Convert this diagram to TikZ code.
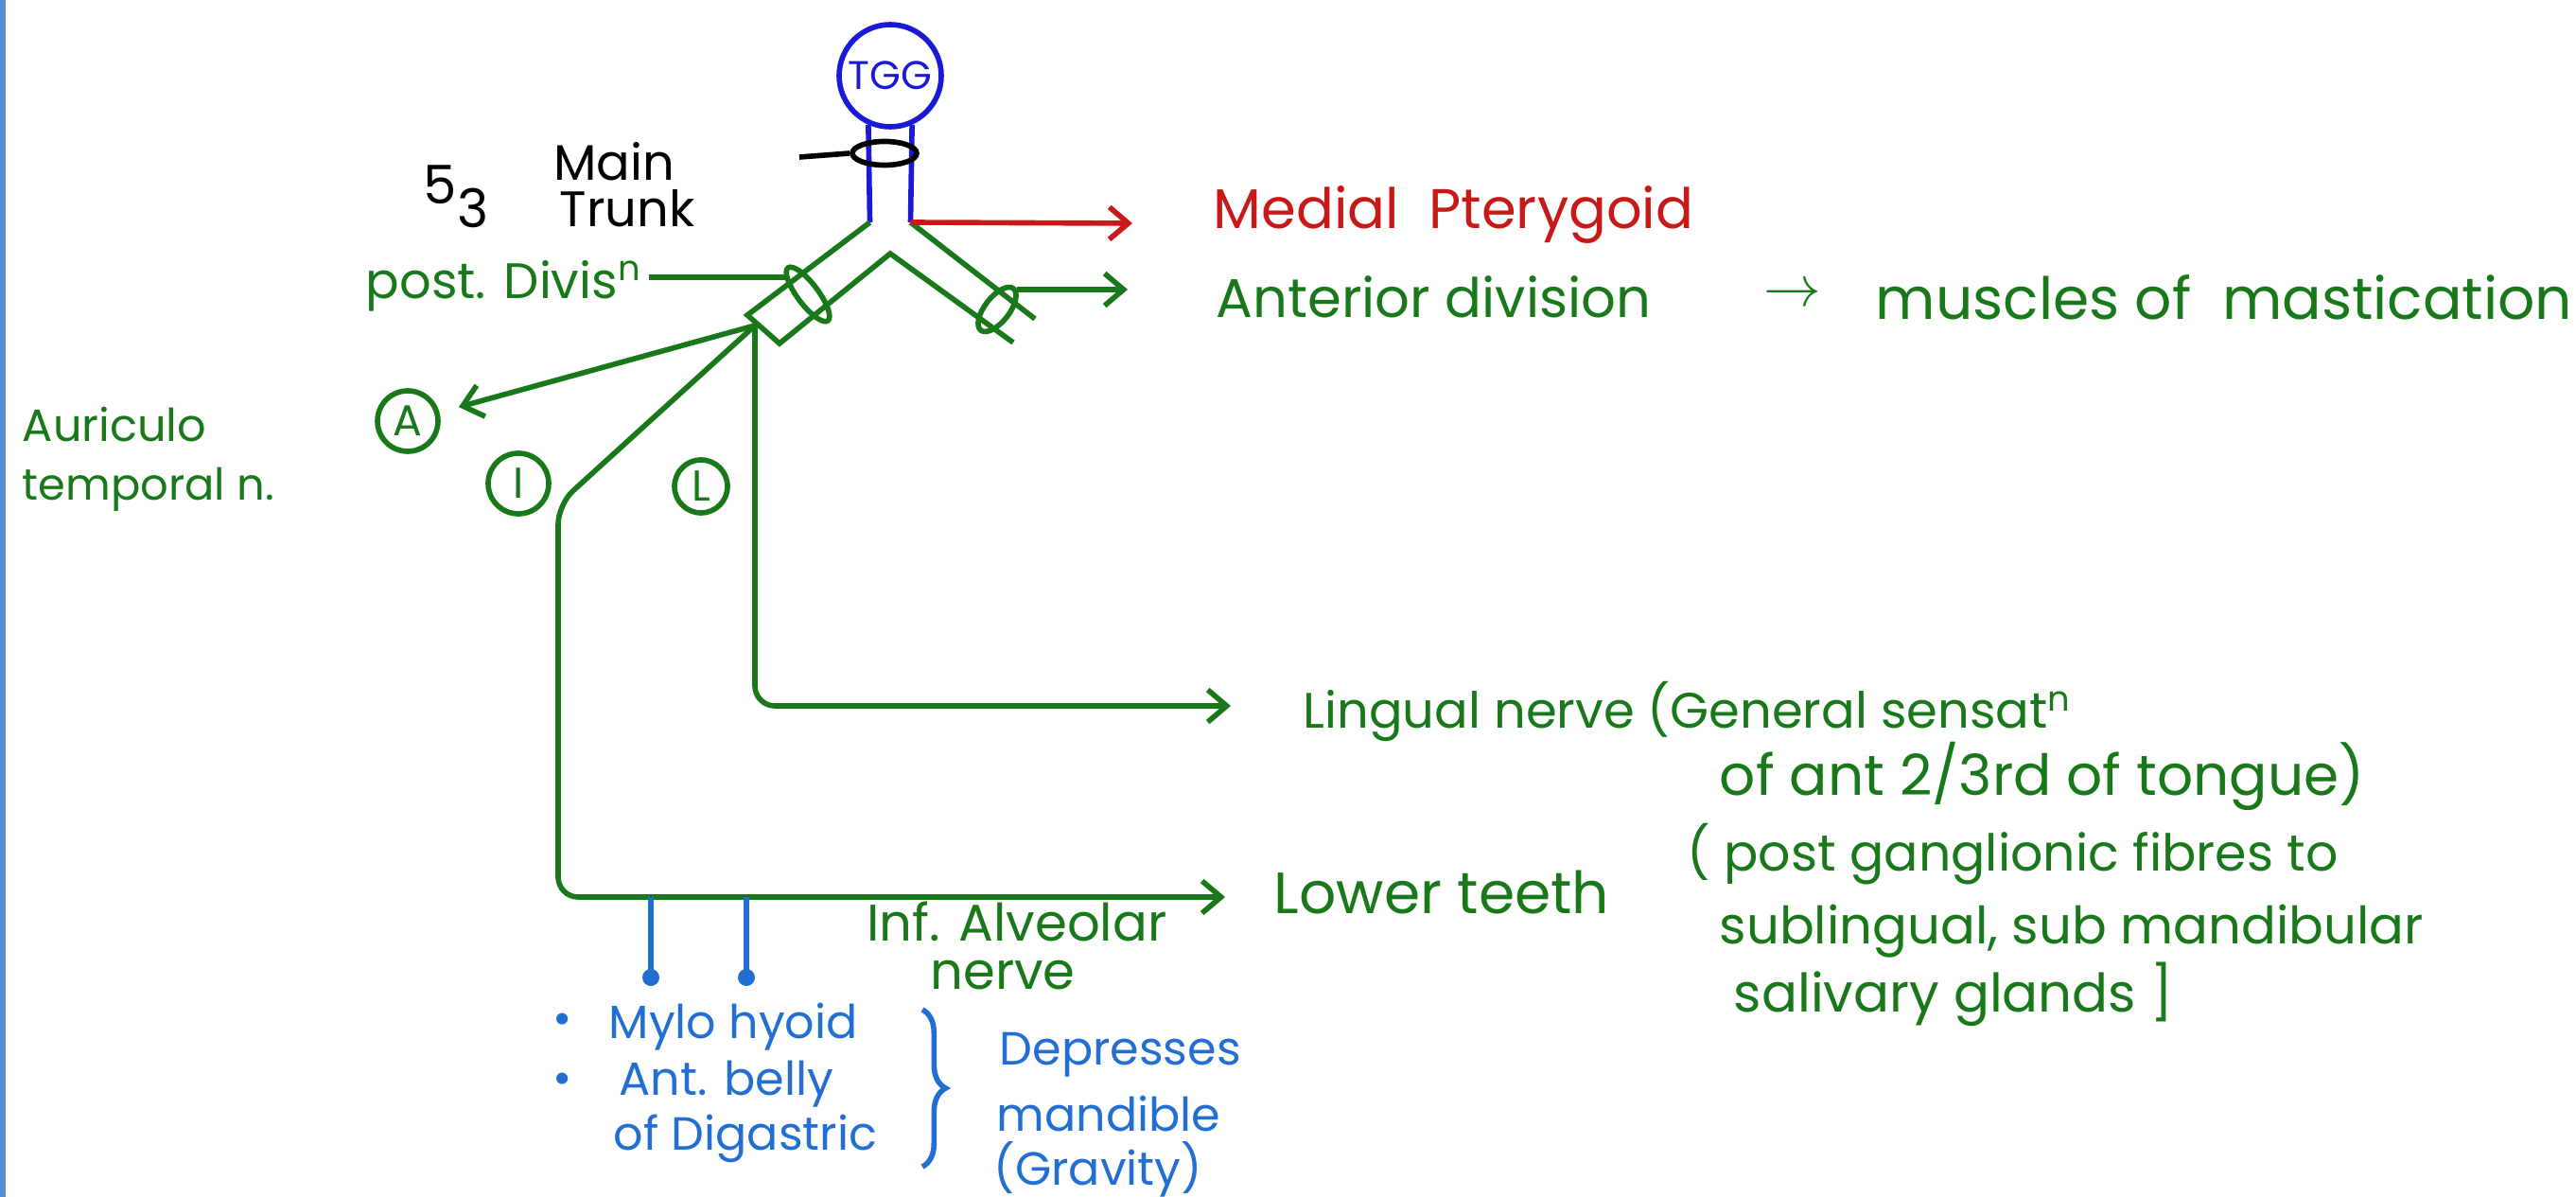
\documentclass[tikz,border=0pt]{standalone}
\usepackage{fontspec}
\setmainfont{Poppins}
\usetikzlibrary{arrows.meta,shapes.geometric,decorations.pathreplacing}

\definecolor{nervegreen}{RGB}{25,120,25}
\definecolor{tggblue}{RGB}{25,25,215}
\definecolor{pterred}{RGB}{200,25,25}
\definecolor{motorblue}{RGB}{35,110,210}
\definecolor{edgeblue}{RGB}{90,140,215}

\begin{document}
\begin{tikzpicture}[x=1cm, y=-1cm, line width=1.6pt,
    every node/.style={font=\fontsize{16}{19}\selectfont, inner sep=0pt},
    tip/.style={-{Straight Barb[length=2mm,width=3.4mm]}},
    txt/.style={anchor=west, text=nervegreen},
    bluetxt/.style={anchor=west, text=motorblue, font=\fontsize{14}{17}\selectfont},
    branch/.style={circle, draw=nervegreen, text=nervegreen, minimum size=6.4mm, font=\fontsize{13}{15}\selectfont}]
    \useasboundingbox (0,0) rectangle (27.23,12.65);
    \draw[edgeblue, line width=2pt] (0.02,0) -- (0.02,12.65);

    % ganglion and main trunk
    \node[circle, draw=tggblue, text=tggblue, minimum size=10.8mm, font=\fontsize{12}{13}\selectfont] (tgg) at (9.41,0.80) {TGG};
    \coordinate (tl) at (9.195,2.35);
    \coordinate (tr) at (9.625,2.35);
    \draw[tggblue] (tgg.-114) -- (tl);
    \draw[tggblue] (tgg.-66) -- (tr);
    \node[ellipse, draw, minimum width=6.8mm, minimum height=2.5mm] (cuff) at (9.35,1.62) {};
    \coordinate (mt) at (8.45,1.66);
    \draw (mt) -- (cuff.west);
    \node[anchor=center, font=\fontsize{15}{18}\selectfont] (main) at (6.49,1.71) {Main};
    \node[anchor=center, font=\fontsize{15}{18}\selectfont] (trunk) at (6.63,2.20) {Trunk};
    \node[anchor=west] (five) at (4.45,2.08) {5\raisebox{-.45em}{3}};

    % anterior and posterior divisions
    \coordinate (apex) at (9.41,2.68);
    \coordinate (lo) at (7.90,3.33);
    \coordinate (li) at (8.24,3.63);
    \coordinate (ro) at (10.94,3.37);
    \coordinate (ri) at (10.71,3.62);
    \draw[nervegreen] (tl) -- (lo) -- (li) -- (apex) -- (ri);
    \draw[nervegreen] (tr) -- (ro);
    \draw[nervegreen, rotate around={-53:(8.54,3.11)}] (8.54,3.11) ellipse [x radius=.35, y radius=.11];
    \draw[nervegreen, rotate around={52:(10.54,3.27)}] (10.54,3.27) ellipse [x radius=.28, y radius=.13];

    % medial pterygoid
    \coordinate (mp) at (11.97,2.36);
    \draw[pterred, tip] (tr) -- (mp);
    \node[anchor=west, text=pterred, font=\fontsize{16.8}{19}\selectfont] (medial) at (12.80,2.27) {Medial\ \ Pterygoid};

    % anterior division
    \coordinate (ant) at (10.75,3.06);
    \coordinate (antend) at (11.92,3.06);
    \draw[nervegreen, tip] (ant) -- (antend);
    \node[txt, font=\fontsize{16.4}{19}\selectfont] (antdiv) at (12.83,3.14) {Anterior division};
    \node[text=nervegreen] (to) at (18.95,3.12) {$\rightarrow$};
    \node[txt, font=\fontsize{17.5}{20}\selectfont] (mast) at (19.80,3.14) {muscles of\ \ mastication};

    % posterior division
    \coordinate (pd) at (6.86,2.93);
    \coordinate (pdring) at (8.33,2.93);
    \draw[nervegreen] (pd) -- (pdring);
    \node[txt, font=\fontsize{15}{18}\selectfont] (post) at (3.84,3.02) {post. Divis\textsuperscript{n}};

    % branches of the posterior division
    \coordinate (O) at (7.98,3.44);
    \node[branch] (A) at (4.31,4.45) {A};
    \node[branch] (I) at (5.48,5.11) {I};
    \node[branch, minimum size=5.6mm] (L) at (7.41,5.14) {L};
    \draw[nervegreen, tip, shorten >=6pt] (O) -- (A);
    \node[txt, font=\fontsize{13.6}{16}\selectfont] (auric) at (0.21,4.49) {Auriculo};
    \node[txt, font=\fontsize{13.2}{16}\selectfont] (temp) at (0.21,5.17) {temporal n.};

    \coordinate (ling) at (13.01,7.46);
    \draw[nervegreen, tip, rounded corners=6pt] (O) -- (7.98,7.46) -- (ling);
    \coordinate (ian) at (12.95,9.48);
    \draw[nervegreen, tip, rounded corners=6pt] (O) -- (5.90,5.33) -- (5.90,9.48) -- (ian);

    \node[txt, font=\fontsize{15}{18}\selectfont] (lingual) at (13.75,7.52) {Lingual nerve (General sensat\textsuperscript{n}};
    \node[txt, font=\fontsize{17}{20}\selectfont] (tongue) at (18.15,8.20) {of ant 2/3rd of tongue)};
    \node[txt, font=\fontsize{15.3}{18}\selectfont] (fibres) at (17.81,9.03) {( post ganglionic fibres to};
    \node[txt, font=\fontsize{15.5}{18}\selectfont] (glands) at (18.15,9.84) {sublingual, sub mandibular};
    \node[txt] (saliv) at (18.30,10.51) {salivary glands ]};
    \node[txt, font=\fontsize{17.5}{20}\selectfont] (teeth) at (13.44,9.43) {Lower teeth};
    \node[text=nervegreen, font=\fontsize{15.5}{18}\selectfont] (infalv) at (10.75,9.74) {Inf. Alveolar};
    \node[text=nervegreen, font=\fontsize{15.5}{18}\selectfont] (nerve) at (10.60,10.31) {nerve};

    % mylohyoid and anterior belly of digastric
    \foreach \x in {6.88,7.89}{
        \draw[motorblue] (\x,9.48) -- (\x,10.33);
        \fill[motorblue] (\x,10.33) circle (0.09);
    }
    \node[bluetxt] (b1) at (5.82,10.82) {\textbullet};
    \node[bluetxt] (b2) at (5.82,11.45) {\textbullet};
    \node[bluetxt] (mylo) at (6.41,10.85) {Mylo hyoid};
    \node[bluetxt] (belly) at (6.52,11.46) {Ant. belly};
    \node[bluetxt] (digas) at (6.46,12.03) {of Digastric};
    \draw[motorblue, decorate, decoration={brace, amplitude=7pt}] (9.75,10.67) -- (9.75,12.33);
    \node[bluetxt] (depr) at (10.54,11.15) {Depresses};
    \node[bluetxt] (mand) at (10.51,11.77) {mandible};
    \node[bluetxt] (grav) at (10.48,12.36) {(Gravity)};
\end{tikzpicture}
\end{document}
